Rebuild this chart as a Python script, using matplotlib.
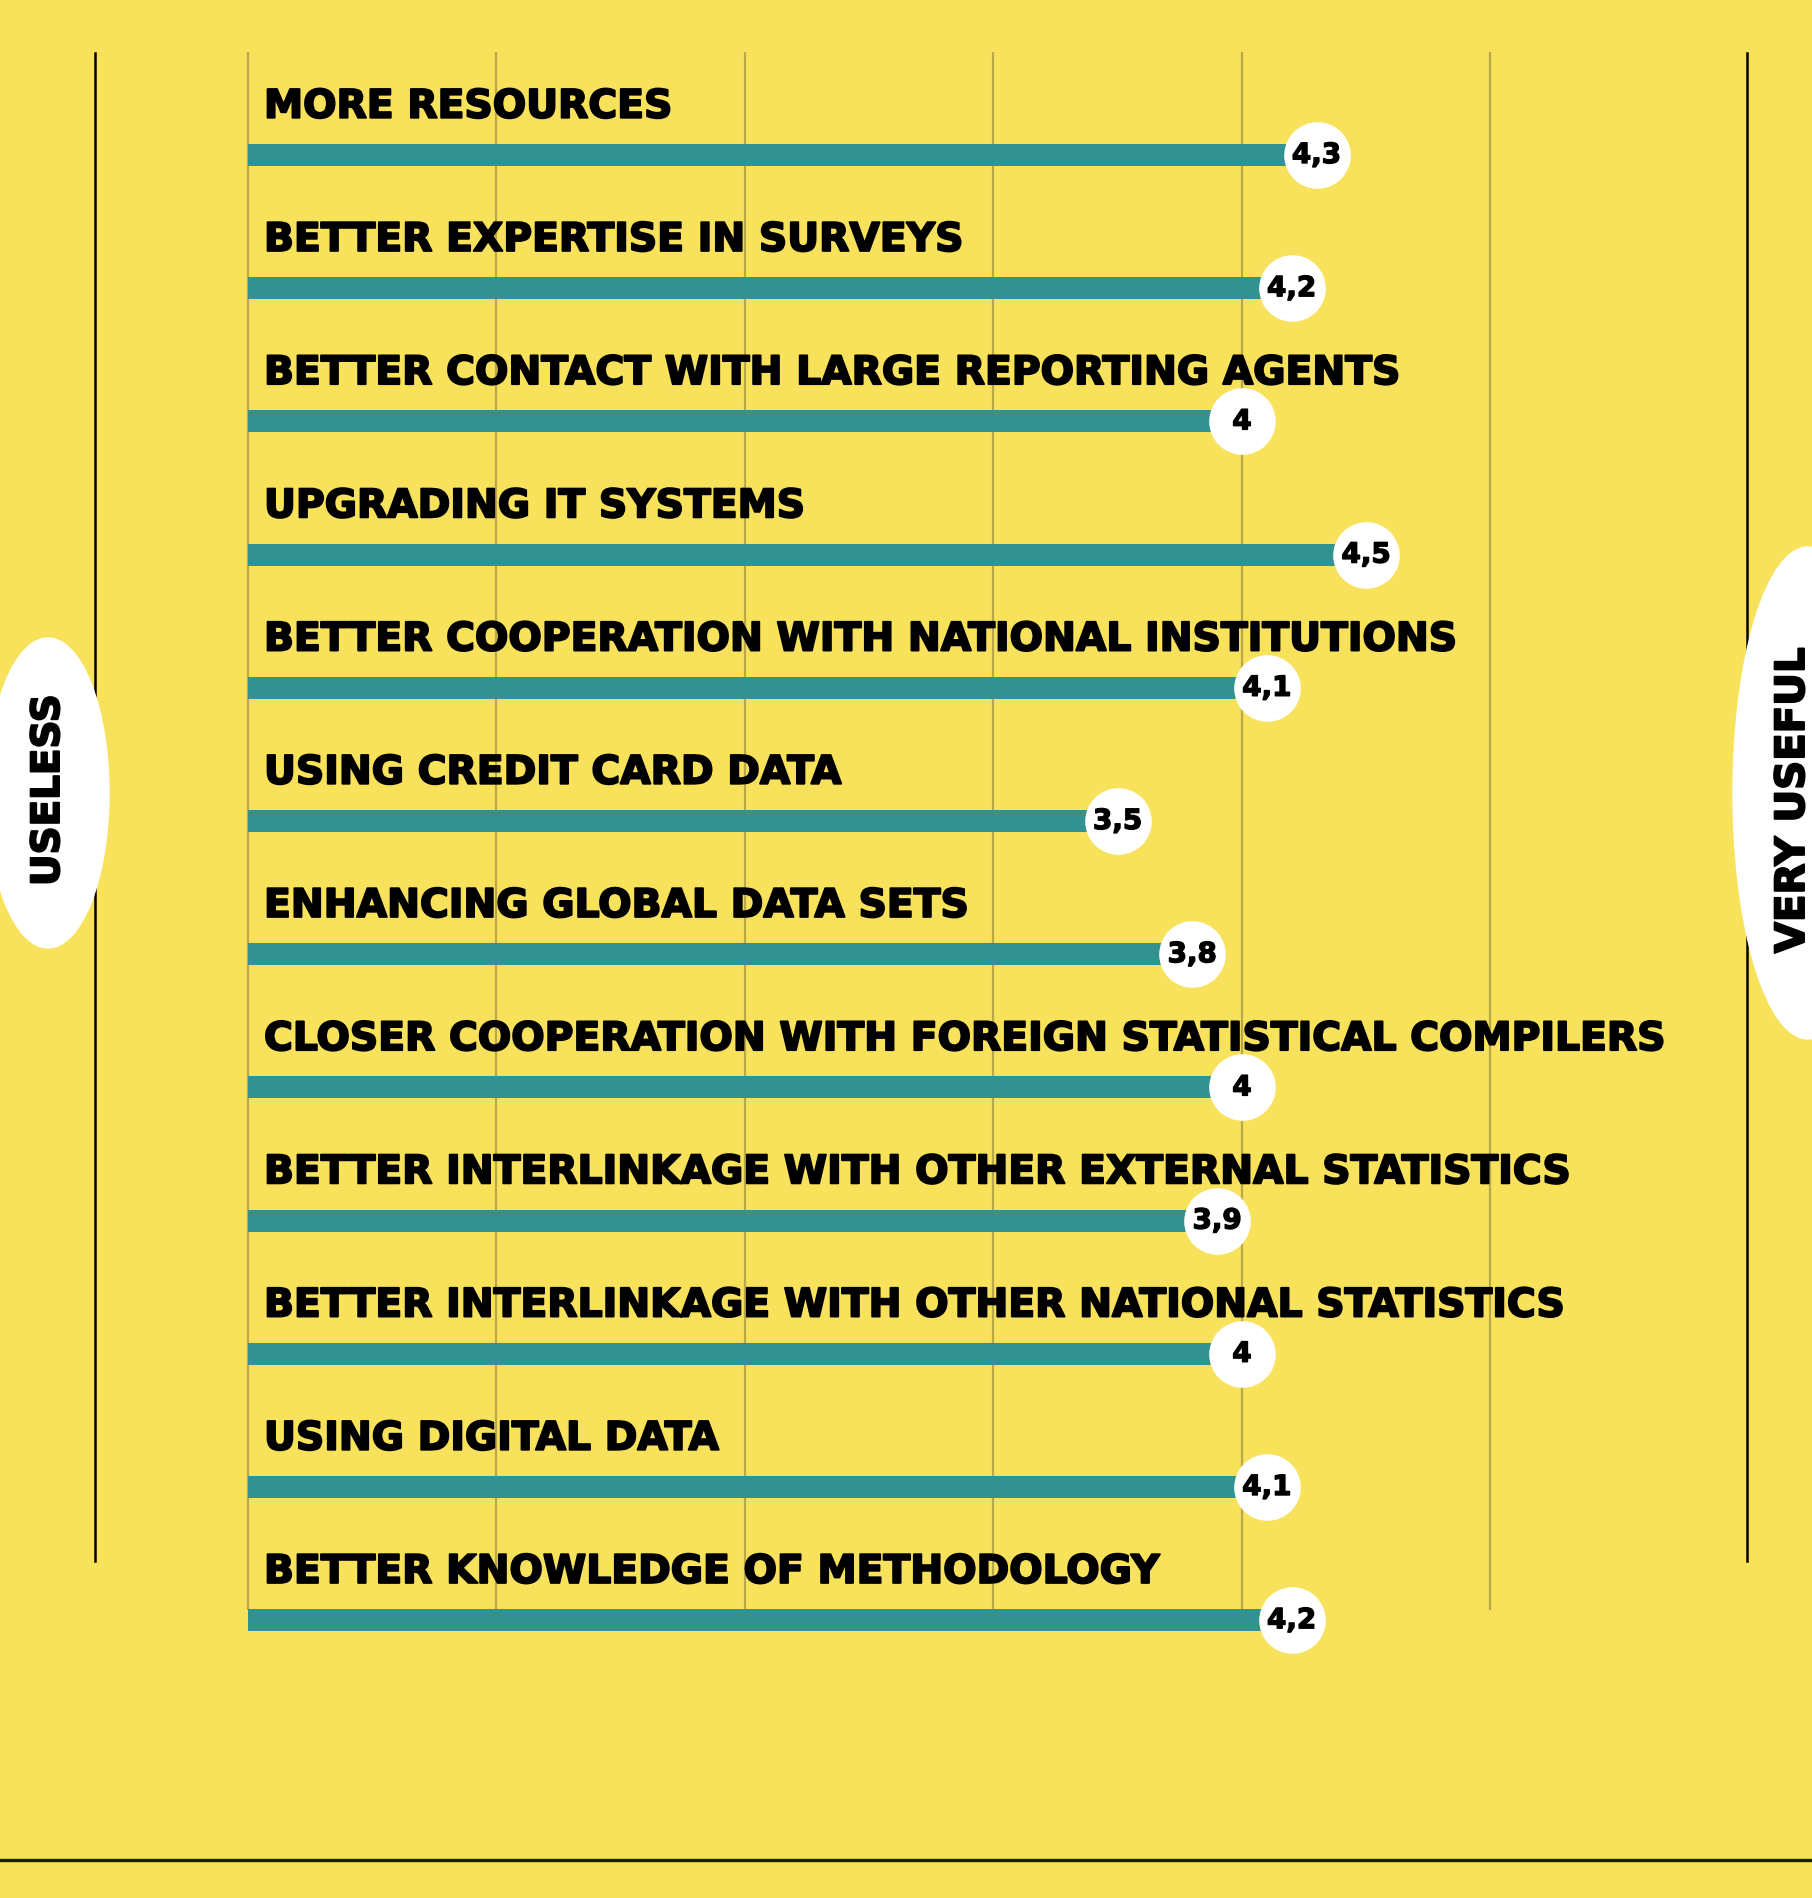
import matplotlib.pyplot as plt
from matplotlib.patches import Ellipse
import matplotlib.patheffects as pe

# 回答項目とスコア（上から順）
labels = [
    "MORE RESOURCES",
    "BETTER EXPERTISE IN SURVEYS",
    "BETTER CONTACT WITH LARGE REPORTING AGENTS",
    "UPGRADING IT SYSTEMS",
    "BETTER COOPERATION WITH NATIONAL INSTITUTIONS",
    "USING CREDIT CARD DATA",
    "ENHANCING GLOBAL DATA SETS",
    "CLOSER COOPERATION WITH FOREIGN STATISTICAL COMPILERS",
    "BETTER INTERLINKAGE WITH OTHER EXTERNAL STATISTICS",
    "BETTER INTERLINKAGE WITH OTHER NATIONAL STATISTICS",
    "USING DIGITAL DATA",
    "BETTER KNOWLEDGE OF METHODOLOGY",
]
scores = [4.3, 4.2, 4.0, 4.5, 4.1, 3.5, 3.8, 4.0, 3.9, 4.0, 4.1, 4.2]
grid_ticks = [0, 1, 2, 3, 4, 5]
left_label = "USELESS"
right_label = "VERY USEFUL"

YELLOW = "#F8E25B"
TEAL = "#329290"
GRID = "#B9A84A"

W, H = 1812, 1898
fig = plt.figure(figsize=(W / 100, H / 100), dpi=100)
fig.patch.set_facecolor(YELLOW)

# 装飾用（ピクセル座標）
deco = fig.add_axes([0, 0, 1, 1])
deco.set_xlim(0, W)
deco.set_ylim(H, 0)
deco.axis("off")

deco.plot([95, 95], [53, 1561], color="black", lw=1.8, zorder=1)
deco.plot([1747, 1747], [53, 1561], color="black", lw=1.8, zorder=1)
deco.axhline(1860, color="#1a1a1a", lw=2.4, zorder=1)

thick = [pe.withStroke(linewidth=1.4, foreground="black")]
deco.add_patch(Ellipse((48, 793), 122, 310, color="white", zorder=2))
deco.add_patch(Ellipse((1808, 793), 150, 492, color="white", zorder=2))
deco.text(48, 790, left_label, rotation=90, ha="center", va="center",
          fontsize=28, fontweight="bold", color="black", zorder=3,
          path_effects=thick)
deco.text(1793, 800, right_label, rotation=90, ha="center", va="center",
          fontsize=29, fontweight="bold", color="black", zorder=3,
          path_effects=thick)

# グラフ本体
ax = fig.add_axes([0, 0, 1, 1])
ax.patch.set_alpha(0)
x0, ux = 248, 248.5
y0, uy = 155, 133.2
ax.set_xlim(-x0 / ux, (W - x0) / ux)
ax.set_ylim((H - y0) / uy, -y0 / uy)
ax.axis("off")

pos = list(range(len(labels)))
ax.vlines(grid_ticks, (52 - y0) / uy, (1610 - y0) / uy, color=GRID, lw=1.6, zorder=1)

ax.barh(pos, scores, height=22 / uy, color=TEAL, zorder=2)
ax.scatter(scores, pos, s=2300, color="white", zorder=3, linewidths=0)

for i, (lab, v) in enumerate(zip(labels, scores)):
    ax.text(16 / ux, i - 0.28, lab, ha="left", va="baseline",
            fontsize=28.3, fontweight="bold", color="black", zorder=4,
            path_effects=thick)
    ax.text(v, i, f"{v:g}".replace(".", ","), ha="center", va="center",
            fontsize=20, fontweight="bold", color="black", zorder=4,
            path_effects=[pe.withStroke(linewidth=1.0, foreground="black")])

plt.savefig("out.png", dpi=100, facecolor=fig.get_facecolor())
